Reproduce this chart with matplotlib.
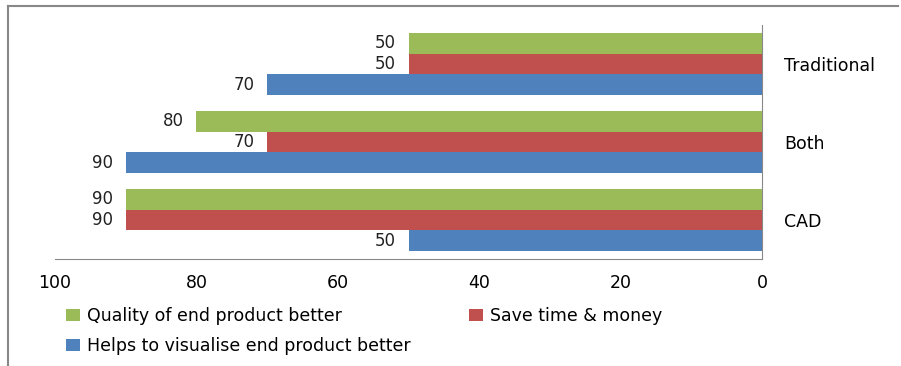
import numpy as np
import matplotlib
matplotlib.use("Agg")
import matplotlib.pyplot as plt
from matplotlib.lines import Line2D

categories = ["CAD", "Both", "Traditional"]
helps_visualise = [50, 90, 70]
save_time = [90, 70, 50]
quality_better = [90, 80, 50]
series_names = ["Helps to visualise end product better",
                "Save time & money",
                "Quality of end product better"]
colors = ["#4F81BD", "#C0504D", "#9BBB59"]

plt.rcParams["font.family"] = "DejaVu Sans"
W, H = 901, 366
fig = plt.figure(figsize=(W / 100, H / 100), dpi=100)
ax = fig.add_axes([55 / W, 1 - 259 / H, (762 - 55) / W, (259 - 25) / H])

y = np.arange(len(categories))
h = 0.265
series = [helps_visualise, save_time, quality_better]
bars = []
for i, (vals, name, c) in enumerate(zip(series, series_names, colors)):
    b = ax.barh(y + (i - 1) * h, vals, height=h, color=c, label=name)
    bars.append(b)
    for yy, v in zip(y + (i - 1) * h, vals):
        ax.annotate(str(v), xy=(v, yy), xytext=(-9, 0), textcoords="offset points",
                    ha="right", va="center", fontsize=12, color="#222222")

ax.set_xlim(100, 0)
ax.set_ylim(-0.5, 2.5)
ax.set_xticks([100, 80, 60, 40, 20, 0])
ax.set_yticks(y)
ax.set_yticklabels(categories)
ax.yaxis.tick_right()
ax.tick_params(axis="y", length=0, pad=16, labelsize=12.5)
ax.tick_params(axis="x", length=0, pad=11, labelsize=12.5)
for lab in ax.get_yticklabels():
    lab.set_horizontalalignment("left")
for s in ["left", "top"]:
    ax.spines[s].set_visible(False)
for s in ["right", "bottom"]:
    ax.spines[s].set_color("#888888")

# outer frame
fig.add_artist(Line2D([8 / W, 8 / W], [1 - 6 / H, 0], color="#888888", lw=1.5))
fig.add_artist(Line2D([8 / W, 898 / W], [1 - 6 / H, 1 - 6 / H], color="#888888", lw=1.5))

handles = [bars[2], bars[0], bars[1]]
labels = [series_names[2], series_names[0], series_names[1]]
fig.legend(handles, labels, ncol=2, loc="upper left",
           bbox_to_anchor=(59 / W, 1 - 300 / H), frameon=False, fontsize=12.5,
           handlelength=0.8, handleheight=0.65, handletextpad=0.4,
           columnspacing=3.4, labelspacing=0.7, borderaxespad=0)

fig.savefig("out.png", dpi=100)
